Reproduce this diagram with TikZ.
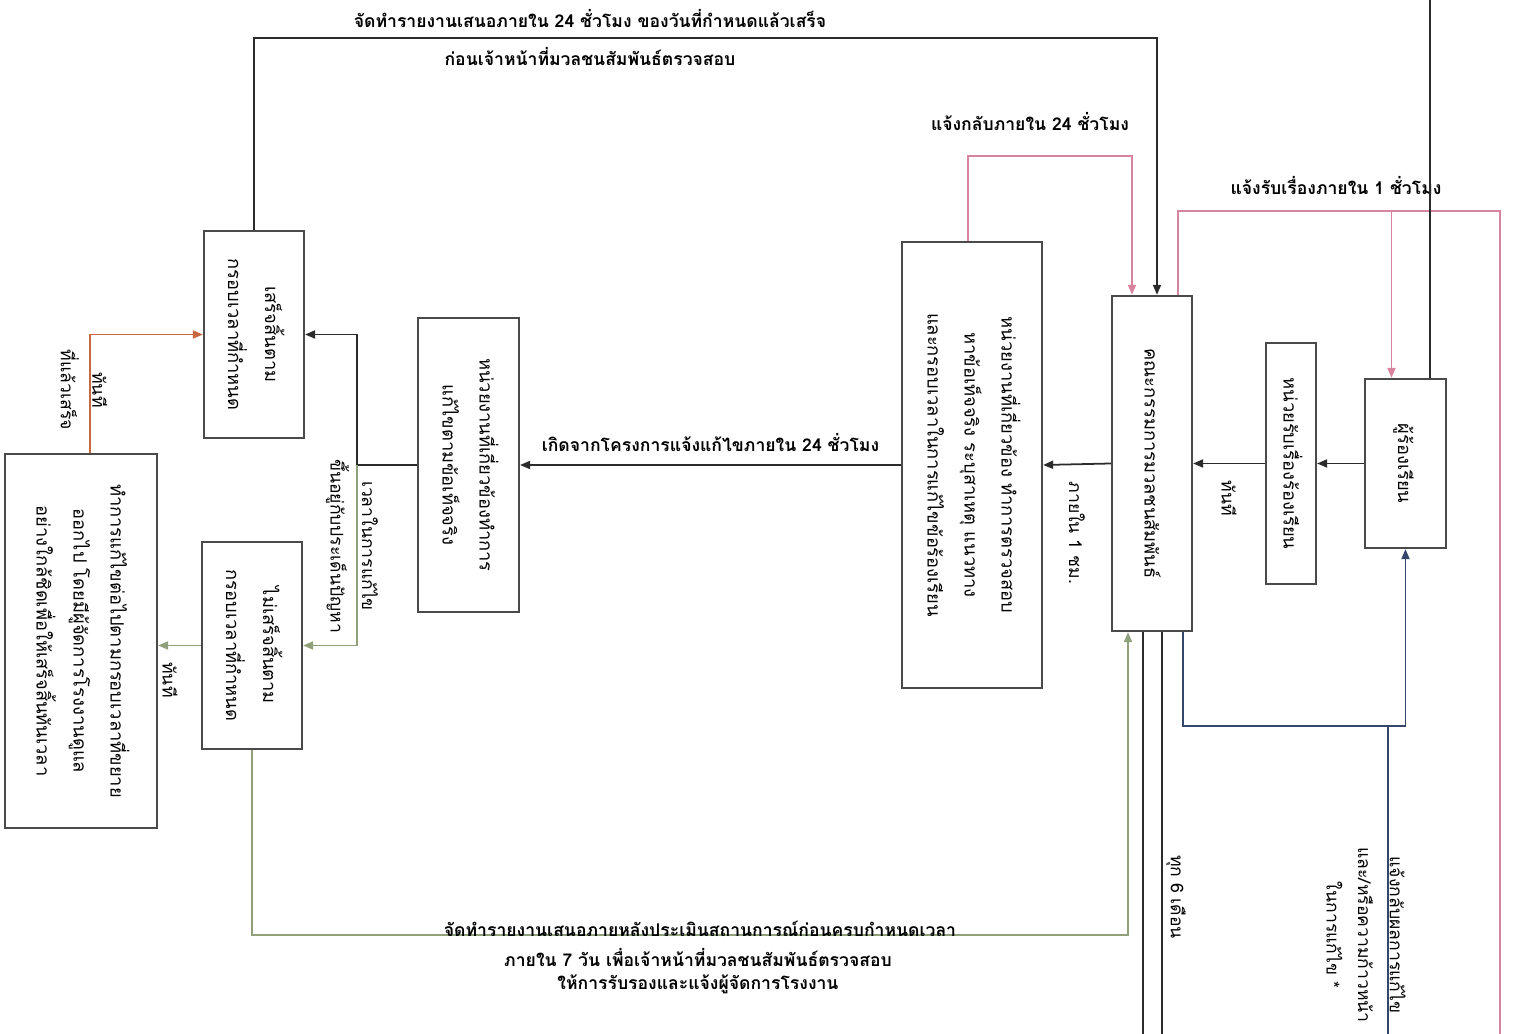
\documentclass[tikz,border=0pt]{standalone}
\usepackage{fontspec}
\setmainfont{Loma}[Script=Thai]
\usetikzlibrary{arrows.meta,calc}

\definecolor{lineblack}{HTML}{2B2B2B}
\definecolor{boxgray}{HTML}{4A4A4A}
\definecolor{pinkln}{HTML}{D9849F}
\definecolor{orangeln}{HTML}{C9683F}
\definecolor{greenln}{HTML}{8FA07A}
\definecolor{blueln}{HTML}{34466A}

% text turned a quarter clockwise, first line on the right
\newcommand{\vtext}[1]{\rotatebox{-90}{\begin{tabular}{@{}c@{}}#1\end{tabular}}}

\begin{document}
\begin{tikzpicture}[x=0.01cm, y=-0.01cm,
  box/.style={draw=boxgray, line width=0.6pt, fill=white, inner sep=0pt,
    font=\fontsize{5.2}{10.5}\selectfont},
  vlabel/.style={rotate=-90, align=center, inner sep=1pt, font=\fontsize{5}{9}\selectfont},
  hlabel/.style={inner sep=1pt, font=\bfseries\fontsize{5}{6.5}\selectfont},
  link/.style={line width=0.5pt, draw=lineblack, -{Triangle[length=1mm,width=0.8mm]}},
  plain/.style={line width=0.5pt, draw=lineblack},
]
  \useasboundingbox (0,0) rectangle (1529,1034);

  % boxes
  \foreach \nm/\cx/\cy/\w/\h/\txt in {
      fin/254/334.5/1.00/2.07/{เสร็จสิ้นตาม\\กรอบเวลาที่กำหนด},
      unfin/252/645.5/1.00/2.07/{ไม่เสร็จสิ้นตาม\\กรอบเวลาที่กำหนด},
      extend/81/641/1.52/3.74/{ทำการแก้ไขต่อไปตามกรอบเวลาที่ขยาย\\ออกไป โดยมีผู้จัดการโรงงานดูแล\\อย่างใกล้ชิดเพื่อให้เสร็จสิ้นทันเวลา},
      fix/468.5/465/1.01/2.94/{หน่วยงานที่เกี่ยวข้องทำการ\\แก้ไขตามข้อเท็จจริง},
      check/972/465/1.40/4.46/{หน่วยงานที่เกี่ยวข้อง ทำการตรวจสอบ\\หาข้อเท็จจริง ระบุสาเหตุ แนวทาง\\และกรอบเวลาในการแก้ไขข้อร้องเรียน},
      board/1152/463.5/0.80/3.35/{คณะกรรมการมวลชนสัมพันธ์},
      desk/1291/463.5/0.50/2.41/{หน่วยรับเรื่องร้องเรียน},
      plaintiff/1405.5/463.5/0.81/1.69/{ผู้ร้องเรียน}
    } {
    \node[box, minimum width=\w cm, minimum height=\h cm] (\nm) at (\cx,\cy) {\vtext{\txt}};
  }

  % edges of the page
  \coordinate (outTop) at (1430,0);
  \coordinate (pinkEnd) at (1500,1034);
  \coordinate (progOut) at (1388,1034);
  \coordinate (botEdge) at (0,1034);

  % main chain
  \draw[link] (plaintiff.west) -- (desk.east);
  \draw[link] (desk.west) -- node[yshift=-0.13cm, vlabel, anchor=west] (lbNow) {ทันที} (board.east);
  \draw[link] (board.west) -- node[yshift=-0.13cm, vlabel, anchor=west] (lbHour) {ภายใน 1 ชม.} (check.east);
  \draw[link] (check.west) -- node[hlabel, above=0.09cm] (lbProj) {เกิดจากโครงการแจ้งแก้ไขภายใน 24 ชั่วโมง} (fix.east);

  % split after fixing
  \coordinate (split) at (357,465);
  \draw[plain] (fix.west) -- (split);
  \draw[link] (split) |- (fin.east);
  \draw[link, draw=greenln] (split) |- (unfin.east);
  \node[vlabel] (lbTime) at (352,546) {เวลาในการแก้ไข\\ขึ้นอยู่กับประเด็นปัญหา};

  % extended work
  \draw[link, draw=orangeln] ($(extend.north)+(9,0)$) |- (fin.west);
  \node[vlabel] (lbDone) at (84,390) {ทันที\\ที่แล้วเสร็จ};
  \draw[link, draw=greenln] (unfin.west) -- (unfin.west -| extend.east);
  \node[vlabel] (lbNow2) at (170,680) {ทันที};

  % report when finished
  \coordinate (topRun) at (254,38);
  \draw[link] (fin.north) -- (topRun) -| ($(board.north)+(5,0)$);
  \node[hlabel] (lbRep1) at (590,19) {จัดทำรายงานเสนอภายใน 24 ชั่วโมง ของวันที่กำหนดแล้วเสร็จ};
  \node[hlabel] (lbRep2) at (590,57) {ก่อนเจ้าหน้าที่มวลชนสัมพันธ์ตรวจสอบ};

  % reply within 24 hours
  \draw[link, draw=pinkln] ($(check.north)+(-4,0)$) -- ++(0,-85) -| ($(board.north)+(-20,0)$);
  \node[hlabel] (lbBack) at (1030,122) {แจ้งกลับภายใน 24 ชั่วโมง};

  % acknowledge within 1 hour
  \coordinate (ackRun) at ($(board.north)+(26,-84)$);
  \coordinate (plIn) at ($(plaintiff.north)+(-14,0)$);
  \draw[plain, draw=pinkln] ($(board.north)+(26,0)$) -- (ackRun) -| (pinkEnd);
  \draw[link, draw=pinkln] (ackRun -| plIn) -- (plIn);
  \node[hlabel] (lbAck) at (1336,186) {แจ้งรับเรื่องภายใน 1 ชั่วโมง};
  \draw[plain] (outTop |- plaintiff.north) -- (outTop);

  % report when not finished
  \coordinate (lowRun) at (252,935);
  \draw[link, draw=greenln] (unfin.south) -- (lowRun) -| ($(board.south)+(-24,0)$);
  \node[hlabel, anchor=south] (lbLow1) at (700,941) {จัดทำรายงานเสนอภายหลังประเมินสถานการณ์ก่อนครบกำหนดเวลา};
  \node[hlabel, align=center, anchor=north] (lbLow2) at (698,944) {ภายใน 7 วัน เพื่อเจ้าหน้าที่มวลชนสัมพันธ์ตรวจสอบ\\ให้การรับรองและแจ้งผู้จัดการโรงงาน};

  % every six months
  \coordinate (six1) at ($(board.south)+(-9,0)$);
  \coordinate (six2) at ($(board.south)+(10,0)$);
  \draw[plain] (six1) -- (six1 |- botEdge);
  \draw[plain] (six2) -- (six2 |- botEdge);
  \node[vlabel] (lbSix) at (1176,897) {ทุก 6 เดือน};

  % progress back to the complainant
  \coordinate (progRun) at ($(board.south)+(31,94)$);
  \draw[link, draw=blueln] ($(board.south)+(31,0)$) -- (progRun) -| (plaintiff.south);
  \draw[plain, draw=blueln] (progOut |- progRun) -- (progOut);
  \node[vlabel] (lbProg) at (1366,935) {แจ้งกลับผลการแก้ไข\\และ/หรือความก้าวหน้า\\ในการแก้ไข *};
\end{tikzpicture}
\end{document}
